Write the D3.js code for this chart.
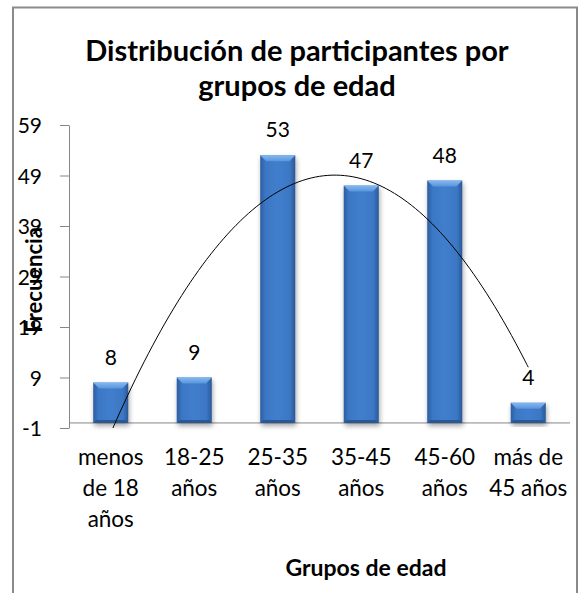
<!DOCTYPE html>
<meta charset="utf-8">
<style>
    body { margin: 0; background: #fff; }
    text { font-family: Lato, "Open Sans", sans-serif; fill: #000; }
    .axis path, .axis line { stroke: #868686; }
    .axis text { font-size: 21px; font-family: Lato, sans-serif; }
</style>
<script src="https://d3js.org/d3.v7.min.js"></script>
<svg width="581" height="593"></svg>
<script>
    // data
    let categories = ["menos de 18 años", "18-25 años", "25-35 años", "35-45 años", "45-60 años", "más de 45 años"];
    let categoryLines = [["menos", "de 18", "años"], ["18-25", "años"], ["25-35", "años"], ["35-45", "años"], ["45-60", "años"], ["más de", "45 años"]];
    let values = [8, 9, 53, 47, 48, 4];
    let yTicks = [-1, 9, 19, 29, 39, 49, 59];
    let titleLines = ["Distribución de participantes por", "grupos de edad"];

    let svg = d3.select("svg");
    let plotLeft = 69, plotRight = 570, plotTop = 125, plotBottom = 428;

    let x = d3.scaleBand().domain(categories).range([plotLeft, plotRight]).paddingInner(0.58).paddingOuter(0.29);
    let y = d3.scaleLinear().domain([-1, 59]).range([plotBottom, plotTop]);

    let defs = svg.append("defs");
    let grad = defs.append("linearGradient").attr("id", "barGrad");
    grad.append("stop").attr("offset", "0%").attr("stop-color", "#2c5e9f");
    grad.append("stop").attr("offset", "15%").attr("stop-color", "#3b77c4");
    grad.append("stop").attr("offset", "50%").attr("stop-color", "#417ecc");
    grad.append("stop").attr("offset", "85%").attr("stop-color", "#3b77c4");
    grad.append("stop").attr("offset", "100%").attr("stop-color", "#2a5896");
    let topGrad = defs.append("linearGradient").attr("id", "topGrad").attr("x1", 0).attr("y1", 0).attr("x2", 0).attr("y2", 1);
    topGrad.append("stop").attr("offset", "0%").attr("stop-color", "#86b8f0");
    topGrad.append("stop").attr("offset", "100%").attr("stop-color", "#5894dc");
    let shadow = defs.append("filter").attr("id", "shadow").attr("x", "-30%").attr("y", "-10%").attr("width", "160%").attr("height", "130%");
    shadow.append("feDropShadow").attr("dx", 1).attr("dy", 3).attr("stdDeviation", 2.5).attr("flood-color", "#000").attr("flood-opacity", 0.35);
    defs.append("clipPath").attr("id", "plotClip")
        .append("rect").attr("x", plotLeft).attr("y", plotTop).attr("width", plotRight - plotLeft).attr("height", plotBottom - plotTop);

    // frame
    svg.append("rect")
        .attr("x", 13).attr("y", 7.5).attr("width", 564).attr("height", 620)
        .attr("fill", "none").attr("stroke", "#8a8a8a").attr("stroke-width", 2);

    // title
    svg.append("text")
        .attr("x", 297).attr("text-anchor", "middle")
        .style("font-size", "29px").style("font-weight", "bold")
        .selectAll("tspan").data(titleLines).enter().append("tspan")
        .attr("x", 297).attr("y", function(d, i) { return 61 + i * 35; })
        .text(function(d) { return d; });

    // y axis
    let yAxis = svg.append("g").attr("class", "axis")
        .attr("transform", "translate(" + plotLeft + ",0)")
        .call(d3.axisLeft(y).tickValues(yTicks).tickFormat(function(d) { return String(d); })
            .tickSize(9).tickPadding(18).tickSizeOuter(0));
    yAxis.selectAll("text").attr("dy", "0.36em");

    // x axis at value 0
    svg.append("line")
        .attr("x1", plotLeft).attr("x2", plotRight)
        .attr("y1", y(0)).attr("y2", y(0))
        .attr("stroke", "#868686");

    // bars
    let bar = svg.selectAll(".bar").data(values).enter().append("g")
        .attr("class", "bar")
        .attr("filter", "url(#shadow)");
    bar.append("rect")
        .attr("x", function(d, i) { return x(categories[i]); })
        .attr("y", function(d) { return y(d); })
        .attr("width", x.bandwidth())
        .attr("height", function(d) { return y(0) - y(d); })
        .attr("fill", "url(#barGrad)");
    let bev = 6;
    bar.append("polygon")
        .attr("points", function(d, i) {
            let x0 = x(categories[i]), x1 = x0 + x.bandwidth(), t = y(d);
            let b = Math.min(bev, (y(0) - t) / 2);
            return [[x0, t], [x1, t], [x1 - b, t + b], [x0 + b, t + b]].join(" ");
        })
        .attr("fill", "url(#topGrad)");
    bar.append("polygon")
        .attr("points", function(d, i) {
            let x0 = x(categories[i]), x1 = x0 + x.bandwidth(), b0 = y(0);
            let b = Math.min(3, (b0 - y(d)) / 2);
            return [[x0, b0], [x1, b0], [x1 - b, b0 - b], [x0 + b, b0 - b]].join(" ");
        })
        .attr("fill", "#2a5896");

    // value labels
    svg.selectAll(".val").data(values).enter().append("text")
        .attr("class", "val")
        .attr("x", function(d, i) { return x(categories[i]) + x.bandwidth() / 2; })
        .attr("y", function(d) { return y(d) - 18; })
        .attr("text-anchor", "middle")
        .style("font-size", "21px")
        .text(function(d) { return d; });

    // polynomial (order 2) trendline, least squares on the bar values
    let xs = values.map(function(d, i) { return i + 1; });
    let S = function(f) { return d3.sum(xs, function(v, i) { return f(v, values[i]); }); };
    let n = xs.length;
    let s1 = S(function(v) { return v; }), s2 = S(function(v) { return v * v; });
    let s3 = S(function(v) { return v * v * v; }), s4 = S(function(v) { return v * v * v * v; });
    let t0 = S(function(v, w) { return w; }), t1 = S(function(v, w) { return v * w; }), t2 = S(function(v, w) { return v * v * w; });
    function det3(m) {
        return m[0][0] * (m[1][1] * m[2][2] - m[1][2] * m[2][1])
             - m[0][1] * (m[1][0] * m[2][2] - m[1][2] * m[2][0])
             + m[0][2] * (m[1][0] * m[2][1] - m[1][1] * m[2][0]);
    }
    let M = [[n, s1, s2], [s1, s2, s3], [s2, s3, s4]];
    let rhs = [t0, t1, t2];
    let D = det3(M);
    let coef = [0, 1, 2].map(function(k) {
        let Mk = M.map(function(row, r) { return row.map(function(c, j) { return j === k ? rhs[r] : c; }); });
        return det3(Mk) / D;
    });
    let xi = d3.scaleLinear().domain([1, categories.length])
        .range([x(categories[0]) + x.bandwidth() / 2, x(categories[categories.length - 1]) + x.bandwidth() / 2]);
    let trend = d3.range(1, categories.length + 0.001, 0.05).map(function(v) {
        return [v, coef[0] + coef[1] * v + coef[2] * v * v];
    });
    svg.append("path")
        .datum(trend)
        .attr("clip-path", "url(#plotClip)")
        .attr("fill", "none")
        .attr("stroke", "#000")
        .attr("stroke-width", 1)
        .attr("d", d3.line().x(function(d) { return xi(d[0]); }).y(function(d) { return y(d[1]); }).curve(d3.curveBasis));

    // category labels
    svg.selectAll(".cat").data(categoryLines).enter().append("text")
        .attr("class", "cat")
        .attr("text-anchor", "middle")
        .style("font-size", "22.5px")
        .each(function(lines, i) {
            let cx = x(categories[i]) + x.bandwidth() / 2;
            d3.select(this).selectAll("tspan").data(lines).enter().append("tspan")
                .attr("x", cx)
                .attr("y", function(d, j) { return 465 + j * 31; })
                .text(function(d) { return d; });
        });

    // axis titles
    svg.append("text")
        .attr("x", 366).attr("y", 576)
        .attr("text-anchor", "middle")
        .style("font-size", "23px").style("font-weight", "bold")
        .text("Grupos de edad");
    svg.append("text")
        .attr("transform", "translate(42,280) rotate(-90)")
        .attr("text-anchor", "middle")
        .style("font-size", "22px").style("font-weight", "bold")
        .text("Frecuencia");
</script>
